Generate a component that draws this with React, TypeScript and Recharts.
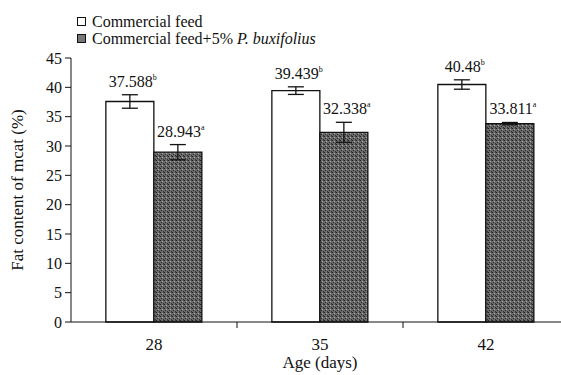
import { BarChart, Bar, XAxis, YAxis, ErrorBar, LabelList, Label } from 'recharts';

const ages = ['28', '35', '42'];
const commercial = [37.588, 39.439, 40.48];
const commercialErr = [1.15, 0.65, 0.8];
const commercialSig = ['b', 'b', 'b'];
const supplemented = [28.943, 32.338, 33.811];
const supplementedErr = [1.3, 1.7, 0.2];
const supplementedSig = ['a', 'a', 'a'];
const yTicks = [0, 5, 10, 15, 20, 25, 30, 35, 40, 45];

const data = ages.map((age, i) => ({
  age,
  commercial: commercial[i],
  commercialErr: commercialErr[i],
  supplemented: supplemented[i],
  supplementedErr: supplementedErr[i],
}));

const FONT = '"Liberation Serif", "Times New Roman", serif';

function makeLabel(errs: number[], sigs: string[]) {
  return (props: any) => {
    const { x, y, width, height, value, index } = props;
    const perUnit = Number(height) / Number(value);
    const top = Number(y) - errs[index] * perUnit;
    return (
      <text x={Number(x) + Number(width) / 2 + 3} y={top - 8} textAnchor="middle" fontFamily={FONT} fontSize={16} fill="#111">
        {value}
        <tspan dy={-7} fontSize={8}>{sigs[index]}</tspan>
      </text>
    );
  };
}

function AgeTick(props: any) {
  const { x, y, payload } = props;
  const half = payload?.offset || 83;
  return (
    <g>
      <line x1={x + half} x2={x + half} y1={y - 6} y2={y} stroke="#111" />
      <text x={x} y={y + 22} textAnchor="middle" fontFamily={FONT} fontSize={17} fill="#111">
        {payload.value}
      </text>
    </g>
  );
}

export default function App() {
  return (
    <div style={{ position: 'absolute', left: 0, top: 0, width: 561, height: 375, overflow: 'hidden', background: '#fff' }}>
      <BarChart
        width={575}
        height={375}
        data={data}
        margin={{ top: 58, right: 6, bottom: 0, left: 0 }}
        barCategoryGap="21%"
        barGap={0}
      >
        <defs>
          <pattern id="grain" width="4" height="4" patternUnits="userSpaceOnUse">
            <rect width="4" height="4" fill="#6a6a6a" />
            <rect x="0" y="0" width="1" height="1" fill="#222" />
            <rect x="2" y="1" width="1" height="1" fill="#a8a8a8" />
            <rect x="1" y="2" width="1" height="1" fill="#2a2a2a" />
            <rect x="3" y="3" width="1" height="1" fill="#333" />
            <rect x="3" y="0" width="1" height="1" fill="#444" />
          </pattern>
        </defs>
        <XAxis
          dataKey="age"
          height={53}
          axisLine={{ stroke: '#111' }}
          tickLine={false}
          tickSize={6}
          tickMargin={0}
          tick={<AgeTick />}
        >
          <Label value="Age (days)" position="insideBottom" offset={7} style={{ fontFamily: FONT, fontSize: 17, fill: '#111' }} />
        </XAxis>
        <YAxis
          width={71}
          domain={[0, 45]}
          ticks={yTicks}
          interval={0}
          axisLine={{ stroke: '#111' }}
          tickLine={{ stroke: '#111' }}
          tickSize={6}
          tickMargin={3}
          tick={{ fontFamily: FONT, fontSize: 16, fill: '#111' }}
        >
          <Label
            value="Fat content of mcat (%)"
            angle={-90}
            position="insideLeft"
            offset={17}
            style={{ textAnchor: 'middle', fontFamily: FONT, fontSize: 17, fill: '#111' }}
          />
        </YAxis>
        <Bar dataKey="commercial" fill="#fff" stroke="#111" strokeWidth={1.3} isAnimationActive={false}>
          <ErrorBar dataKey="commercialErr" width={8} stroke="#111" strokeWidth={1.3} />
          <LabelList dataKey="commercial" content={makeLabel(commercialErr, commercialSig)} />
        </Bar>
        <Bar dataKey="supplemented" fill="url(#grain)" stroke="#111" strokeWidth={1.3} isAnimationActive={false}>
          <ErrorBar dataKey="supplementedErr" width={8} stroke="#111" strokeWidth={1.3} />
          <LabelList dataKey="supplemented" content={makeLabel(supplementedErr, supplementedSig)} />
        </Bar>
      </BarChart>
      <div style={{ position: 'absolute', left: 77, top: 13, fontFamily: FONT, fontSize: 16, color: '#111', lineHeight: '17px' }}>
        <div style={{ display: 'flex', alignItems: 'center' }}>
          <span style={{ display: 'inline-block', width: 7, height: 7, border: '1px solid #111', marginRight: 6, background: '#fff' }} />
          Commercial feed
        </div>
        <div style={{ display: 'flex', alignItems: 'center' }}>
          <span style={{ display: 'inline-block', width: 7, height: 7, border: '1px solid #111', marginRight: 6, background: '#777' }} />
          <span>Commercial feed+5% <i>P. buxifolius</i></span>
        </div>
      </div>
    </div>
  );
}
